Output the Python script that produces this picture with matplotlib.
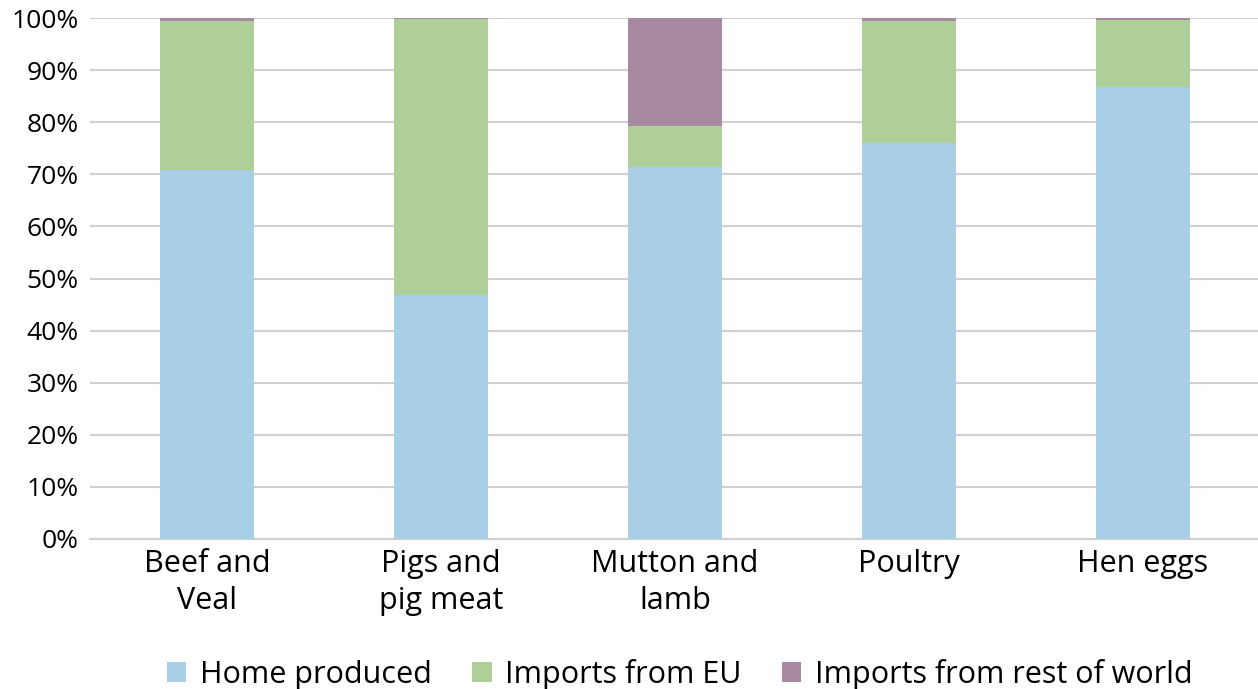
import numpy as np
import matplotlib.pyplot as plt
from matplotlib.ticker import PercentFormatter

categories = ["Beef and\nVeal", "Pigs and\npig meat", "Mutton and\nlamb", "Poultry", "Hen eggs"]
home = [70.8, 46.8, 71.4, 76.0, 86.8]
eu = [28.6, 53.1, 7.9, 23.4, 12.9]
rest = [0.6, 0.1, 20.7, 0.6, 0.3]

series = [("Home produced", home, "#A9CFE6"),
          ("Imports from EU", eu, "#AFCF98"),
          ("Imports from rest of world", rest, "#A889A2")]

plt.rcParams["font.family"] = ["Open Sans", "DejaVu Sans"]

fig = plt.figure(figsize=(12.58, 6.89), dpi=100)
ax = fig.add_axes([90 / 1258, 1 - 539 / 689, 1170 / 1258, 521 / 689])

x = np.arange(len(categories))
bottom = np.zeros(len(categories))
for label, vals, color in series:
    ax.bar(x, vals, 0.4, bottom=bottom, color=color, label=label, zorder=3)
    bottom += np.array(vals)

ax.set_xlim(-0.5, len(categories) - 0.5)
ax.set_ylim(0, 100)
ax.set_yticks(np.arange(0, 101, 10))
ax.yaxis.set_major_formatter(PercentFormatter(decimals=0))
ax.set_xticks(x)
ax.set_xticklabels(categories, fontsize=22, linespacing=1.3)
ax.tick_params(axis="y", length=0, labelsize=19, pad=8)
ax.tick_params(axis="x", length=0, pad=7)
ax.grid(axis="y", color="#D0D0D0", linewidth=1.5, zorder=0)
for s in ["top", "right", "left"]:
    ax.spines[s].set_visible(False)
ax.spines["bottom"].set_color("#D0D0D0")
ax.spines["bottom"].set_linewidth(1.5)

ax.legend(loc="center", bbox_to_anchor=(0.504, -0.26), ncol=3, frameon=False,
          fontsize=22, handlelength=0.65, handleheight=0.65, handletextpad=0.45,
          columnspacing=1.3)

fig.savefig("out.png", dpi=100)
